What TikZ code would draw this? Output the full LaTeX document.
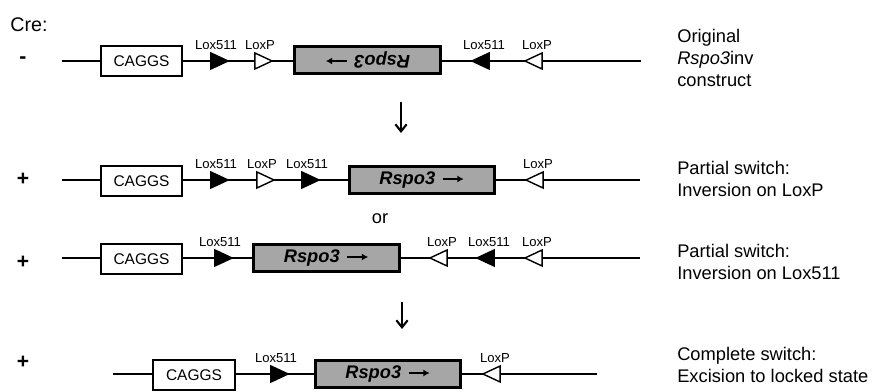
\documentclass[tikz,border=0pt]{standalone}
\usepackage{fontspec}
\setmainfont{Liberation Sans}
\usetikzlibrary{arrows.meta,shapes.geometric}
\definecolor{genegray}{RGB}{166,166,166}
\newcommand{\genearrow}{\hspace{4.5pt}\tikz[x=1cm,y=1cm,baseline=-0.3em]
  \draw[line width=1.4pt,-{Latex[length=4.5pt,width=5pt]}] (0,0) -- (15pt,0);}

\begin{document}
\begin{tikzpicture}[x=0.025cm,y=-0.025cm,
    dna/.style={line width=1.5pt},
    promoter/.style={draw,line width=1.4pt,fill=white,inner sep=0pt,
      minimum width=2.03cm,minimum height=0.75cm,font=\fontsize{11}{13}\selectfont},
    gene/.style={draw,line width=2pt,fill=genegray,inner sep=0pt,
      minimum width=3.63cm,minimum height=0.68cm,font=\fontsize{13}{15}\selectfont\bfseries\itshape},
    lox/.style={isosceles triangle,isosceles triangle apex angle=50,draw,line width=1pt,
      inner sep=0pt,minimum height=0.42cm,minimum width=0.4cm},
    loxfive/.style={lox,fill=black},
    loxp/.style={lox,fill=white},
    fwd/.style={shape border rotate=0},
    rev/.style={shape border rotate=180},
    site/.style={font=\fontsize{9.3}{11}\selectfont},
    state/.style={align=left,anchor=west,inner sep=0pt,font=\fontsize{13}{15.5}\selectfont},
    sign/.style={font=\fontsize{15}{17}\selectfont\bfseries},
    switcharrow/.style={line width=1.5pt,-{Straight Barb[length=5pt,width=8pt]}}]
  \useasboundingbox (0,0) rectangle (875,392);

  \node[font=\fontsize{14}{16}\selectfont] (cre) at (29,25) {Cre:};

  % row 1: original construct
  \coordinate (oneL) at (62,61);
  \coordinate (oneR) at (641,61);
  \draw[dna] (oneL) -- (oneR);
  \node[sign] (signA) at (23,60) {-};
  \node[promoter] (caggsA) at (141.5,61) {CAGGS};
  \node[loxfive,fwd,label={[site]above:Lox511}] (lfiveA) at (216,61) {};
  \node[loxp,fwd,label={[site]above:LoxP}] (lpA) at (260,61) {};
  \node[gene] (rspoA) at (367.5,60) {\rotatebox{180}{Rspo3\genearrow}};
  \node[loxfive,rev,label={[site]above:Lox511}] (lfiveAr) at (484,61) {};
  \node[loxp,rev,label={[site]above:LoxP}] (lpAr) at (537,61) {};
  \node[state] (stateA) at (677,58) {Original\\\textit{Rspo3}inv\\construct};

  \coordinate (arrAtop) at (401,102);
  \coordinate (arrAbot) at (401,133);
  \draw[switcharrow] (arrAtop) -- (arrAbot);

  % row 2: inversion on LoxP
  \coordinate (twoL) at (62,180);
  \coordinate (twoR) at (640,180);
  \draw[dna] (twoL) -- (twoR);
  \node[sign] (signB) at (23,179) {+};
  \node[promoter] (caggsB) at (141.5,181) {CAGGS};
  \node[loxfive,fwd,label={[site]above:Lox511}] (lfiveB) at (216,180) {};
  \node[loxp,fwd,label={[site]above:LoxP}] (lpB) at (262,180) {};
  \node[loxfive,fwd,label={[site]above:Lox511}] (lfiveBb) at (307,180) {};
  \node[gene] (rspoB) at (422,180) {Rspo3\genearrow};
  \node[loxp,rev,label={[site]above:LoxP}] (lpBr) at (538,180) {};
  \node[state] (stateB) at (677,179) {Partial switch:\\Inversion on LoxP};

  \node[font=\fontsize{13}{15}\selectfont] (or) at (380,219) {or};

  % row 3: inversion on Lox511
  \coordinate (threeL) at (62,258);
  \coordinate (threeR) at (640,258);
  \draw[dna] (threeL) -- (threeR);
  \node[sign] (signC) at (23,262) {+};
  \node[promoter] (caggsC) at (141.5,259) {CAGGS};
  \node[loxfive,fwd,label={[site]above:Lox511}] (lfiveC) at (220,258) {};
  \node[gene] (rspoC) at (326.5,258) {Rspo3\genearrow};
  \node[loxp,rev,label={[site]above:LoxP}] (lpC) at (442,258) {};
  \node[loxfive,rev,label={[site]above:Lox511}] (lfiveCr) at (489,258) {};
  \node[loxp,rev,label={[site]above:LoxP}] (lpCr) at (537,258) {};
  \node[state] (stateC) at (677,262) {Partial switch:\\Inversion on Lox511};

  \coordinate (arrBtop) at (402,302);
  \coordinate (arrBbot) at (402,329);
  \draw[switcharrow] (arrBtop) -- (arrBbot);

  % row 4: excision, locked state
  \coordinate (fourL) at (113,374);
  \coordinate (fourR) at (597,374);
  \draw[dna] (fourL) -- (fourR);
  \node[sign] (signD) at (23,362) {+};
  \node[promoter] (caggsD) at (194,375) {CAGGS};
  \node[loxfive,fwd,label={[site]above:Lox511}] (lfiveD) at (276,374) {};
  \node[gene] (rspoD) at (388,374) {Rspo3\genearrow};
  \node[loxp,rev,label={[site]above:LoxP}] (lpD) at (495,374) {};
  \node[state] (stateD) at (677,365) {Complete switch:\\Excision to locked state};
\end{tikzpicture}
\end{document}
